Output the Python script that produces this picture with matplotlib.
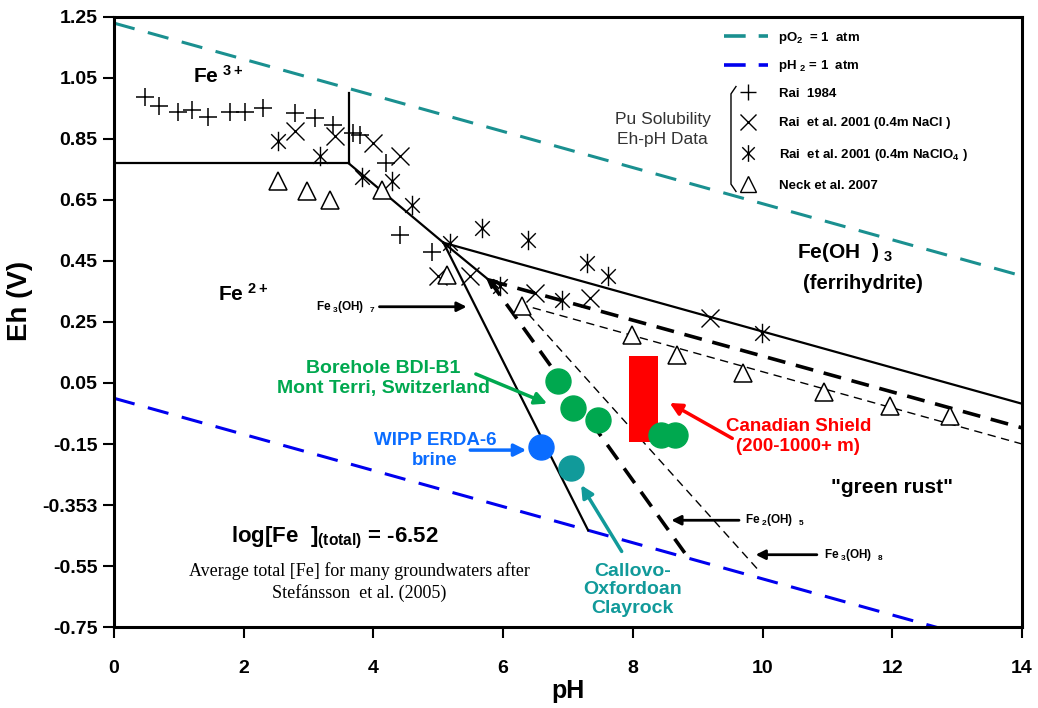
import matplotlib
matplotlib.use("Agg")
import matplotlib.pyplot as plt
from matplotlib.path import Path
from matplotlib.lines import Line2D

plt.rcParams['font.family'] = ['Liberation Sans', 'DejaVu Sans']
plt.rcParams['mathtext.fontset'] = 'custom'
plt.rcParams['mathtext.rm'] = 'Liberation Sans'
plt.rcParams['mathtext.bf'] = 'Liberation Sans:bold'
plt.rcParams['mathtext.default'] = 'regular'

# ---- stability boundaries (pH, Eh) ----
po2_ph, po2_eh = [0, 14], [1.23, 0.401]
ph2_ph, ph2_eh = [0, 14], [0.0, -0.829]
fe3_fe2_ph, fe3_fe2_eh = [0, 3.62], [0.77, 0.77]
fe3_vert_ph, fe3_vert_eh = [3.62, 3.62], [0.77, 1.0]
feoh3_fe2_ph, feoh3_fe2_eh = [3.62, 5.08], [0.77, 0.51]
feoh3_ext_ph, feoh3_ext_eh = [5.08, 5.79], [0.51, 0.386]
feoh3_gr7_ph, feoh3_gr7_eh = [5.08, 14], [0.51, -0.018]
gr7_fe2_ph, gr7_fe2_eh = [5.08, 7.31], [0.51, -0.433]
gr5_top_ph, gr5_top_eh = [5.79, 14], [0.386, -0.097]
gr5_fe2_ph, gr5_fe2_eh = [5.79, 8.80], [0.386, -0.507]
gr8_top_ph, gr8_top_eh = [6.25, 14], [0.309, -0.150]
gr8_fe2_ph, gr8_fe2_eh = [6.25, 9.93], [0.309, -0.562]

# ---- Pu solubility Eh-pH data ----
rai84_ph = [0.48, 0.70, 0.99, 1.20, 1.45, 1.79, 2.02, 2.30, 2.79, 3.10, 3.38, 3.69, 3.79, 4.20, 4.41, 4.90]
rai84_eh = [0.988, 0.959, 0.940, 0.946, 0.922, 0.940, 0.940, 0.952, 0.935, 0.919, 0.897, 0.870, 0.864, 0.771, 0.536, 0.481]
rai01cl_ph = [2.79, 3.41, 4.00, 4.41, 5.00, 5.49, 6.49, 7.34, 9.19]
rai01cl_eh = [0.875, 0.859, 0.837, 0.793, 0.400, 0.400, 0.345, 0.329, 0.263]
rai01clo4_ph = [2.53, 3.18, 3.82, 4.28, 4.59, 5.18, 5.67, 6.39, 5.95, 6.90, 7.29, 7.62, 9.99]
rai01clo4_eh = [0.842, 0.793, 0.727, 0.711, 0.635, 0.509, 0.558, 0.520, 0.367, 0.323, 0.443, 0.400, 0.214]
neck_ph = [2.53, 2.97, 3.33, 4.13, 5.13, 6.29, 7.98, 8.68, 9.70, 10.94, 11.96, 12.89]
neck_eh = [0.711, 0.678, 0.651, 0.684, 0.405, 0.301, 0.208, 0.143, 0.083, 0.022, -0.027, -0.059]

# ---- groundwaters ----
bdi_ph = [6.85, 7.08, 7.47, 8.44, 8.65]
bdi_eh = [0.055, -0.032, -0.070, -0.120, -0.120]
wipp_ph, wipp_eh = [6.59], [-0.160]
cox_ph, cox_eh = [7.04], [-0.229]
shield_ph, shield_width = 8.16, 0.44
shield_eh_low, shield_eh_high = -0.145, 0.140

yticks = [1.25, 1.05, 0.85, 0.65, 0.45, 0.25, 0.05, -0.15, -0.35, -0.55, -0.75]
ytick_labels = ['1.25', '1.05', '0.85', '0.65', '0.45', '0.25', '0.05', '-0.15', '-0.353', '-0.55', '-0.75']
xticks = [0, 2, 4, 6, 8, 10, 12, 14]

teal = '#1a9090'
green = '#00a84f'
wblue = '#0a6cff'
cteal = '#119a9a'

asterisk = Path([(0, -1), (0, 1), (-0.75, -0.75), (0.75, 0.75), (-0.75, 0.75), (0.75, -0.75)],
                [Path.MOVETO, Path.LINETO] * 3)

fig = plt.figure(figsize=(10.38, 7.08), dpi=100)
ax = fig.add_axes([0.1098, 0.1144, 0.8748, 0.8616])
ax.set_xlim(0, 14)
ax.set_ylim(-0.75, 1.25)

ax.plot(po2_ph, po2_eh, color=teal, lw=2.2, dashes=(7, 4.5))
ax.plot(ph2_ph, ph2_eh, color='#0000ee', lw=2.2, dashes=(7, 4.5))

for px, ey in [(fe3_fe2_ph, fe3_fe2_eh), (fe3_vert_ph, fe3_vert_eh), (feoh3_fe2_ph, feoh3_fe2_eh),
               (feoh3_ext_ph, feoh3_ext_eh), (feoh3_gr7_ph, feoh3_gr7_eh), (gr7_fe2_ph, gr7_fe2_eh)]:
    ax.plot(px, ey, color='black', lw=1.6)
for px, ey in [(gr5_top_ph, gr5_top_eh), (gr5_fe2_ph, gr5_fe2_eh)]:
    ax.plot(px, ey, color='black', lw=2.6, dashes=(5, 3))
for px, ey in [(gr8_top_ph, gr8_top_eh), (gr8_fe2_ph, gr8_fe2_eh)]:
    ax.plot(px, ey, color='black', lw=1.0, dashes=(6, 4))
ax.annotate('', xy=(5.70, 0.402), xytext=(5.95, 0.357),
            arrowprops=dict(arrowstyle='-|>', color='black', lw=1.5, mutation_scale=16))

ax.plot(rai84_ph, rai84_eh, ls='none', marker='+', ms=13, mew=1.1, color='black')
ax.plot(rai01cl_ph, rai01cl_eh, ls='none', marker='x', ms=13, mew=1.0, color='black')
ax.plot(rai01clo4_ph, rai01clo4_eh, ls='none', marker=asterisk, ms=14, mew=1.0, color='black')
ax.plot(neck_ph, neck_eh, ls='none', marker='^', ms=13, mew=1.1, mfc='white', mec='black')

ax.bar(shield_ph, shield_eh_high - shield_eh_low, bottom=shield_eh_low, width=shield_width,
       color='#ff0000', zorder=3)
ax.plot(bdi_ph, bdi_eh, ls='none', marker='o', ms=18, color=green, zorder=4)
ax.plot(wipp_ph, wipp_eh, ls='none', marker='o', ms=18, color=wblue, zorder=4)
ax.plot(cox_ph, cox_eh, ls='none', marker='o', ms=18, color=cteal, zorder=4)

# ---- labels ----
ax.text(1.22, 1.035, r'Fe$^{\ 3+}$', fontsize=15, fontweight='bold')
ax.text(1.6, 0.32, r'Fe$^{\ 2+}$', fontsize=15, fontweight='bold')
ax.text(10.53, 0.46, r'Fe(OH  )$_{\ 3}$', fontsize=15, fontweight='bold', ha='left')
ax.text(11.55, 0.375, '(ferrihydrite)', fontsize=14.5, fontweight='bold', ha='center', va='center')
ax.text(12.0, -0.294, '"green rust"', fontsize=15, fontweight='bold', ha='center', va='center')

ax.text(4.03, 0.30, r'Fe$_{\ 3}$(OH)  $_7$', fontsize=8.5, fontweight='bold', ha='right', va='center')
ax.annotate('', xy=(5.48, 0.30), xytext=(4.05, 0.30),
            arrowprops=dict(arrowstyle='-|>', color='black', lw=2, mutation_scale=14))
ax.text(9.73, -0.40, r'Fe$_{\ 2}$(OH)  $_5$', fontsize=8.5, fontweight='bold', ha='left', va='center')
ax.annotate('', xy=(8.55, -0.40), xytext=(9.68, -0.40),
            arrowprops=dict(arrowstyle='-|>', color='black', lw=2, mutation_scale=14))
ax.text(10.95, -0.513, r'Fe$_{\ 3}$(OH)  $_8$', fontsize=8.5, fontweight='bold', ha='left', va='center')
ax.annotate('', xy=(9.85, -0.513), xytext=(10.88, -0.513),
            arrowprops=dict(arrowstyle='-|>', color='black', lw=2, mutation_scale=14))

ax.text(10.55, -0.125, 'Canadian Shield\n(200-1000+ m)', color='#ff0000', fontsize=13.5,
        fontweight='bold', ha='center', va='center', linespacing=1.25)
ax.annotate('', xy=(8.53, -0.011), xytext=(9.57, -0.136),
            arrowprops=dict(arrowstyle='-|>', color='#ff0000', lw=2.5, mutation_scale=18))
ax.text(5.80, 0.065, 'Borehole BDI-B1\nMont Terri, Switzerland', color=green, fontsize=14,
        fontweight='bold', ha='right', va='center', multialignment='center', linespacing=1.2)
ax.annotate('', xy=(6.72, -0.021), xytext=(5.54, 0.083),
            arrowprops=dict(arrowstyle='-|>', color=green, lw=2.5, mutation_scale=18))
ax.text(4.95, -0.172, 'WIPP ERDA-6\nbrine', color=wblue, fontsize=13.5, fontweight='bold',
        ha='center', va='center', linespacing=1.2)
ax.annotate('', xy=(6.40, -0.170), xytext=(5.45, -0.170),
            arrowprops=dict(arrowstyle='-|>', color=wblue, lw=2.5, mutation_scale=18))
ax.text(8.0, -0.628, 'Callovo-\nOxfordoan\nClayrock', color=cteal, fontsize=14, fontweight='bold',
        ha='center', va='center', linespacing=1.1)
ax.annotate('', xy=(7.18, -0.277), xytext=(7.85, -0.51),
            arrowprops=dict(arrowstyle='-|>', color=cteal, lw=2.5, mutation_scale=18))

ax.text(3.4, -0.457, r'log[Fe  ]$_{\bf (total)}$ = -6.52', fontsize=16, fontweight='bold',
        ha='center', va='center')
ax.text(3.78, -0.602, 'Average total [Fe] for many groundwaters after\nStefánsson  et al. (2005)',
        fontsize=13, family='Liberation Serif', ha='center', va='center', linespacing=1.3)

ax.text(8.46, 0.88, 'Pu Solubility\nEh-pH Data', fontsize=12.5, color='#333333',
        ha='center', va='center', linespacing=1.4)

# bracket for the data legend
ax.plot([0.6850, 0.6795, 0.6795, 0.6850], [0.886, 0.874, 0.726, 0.714],
        transform=ax.transAxes, color='black', lw=1.0)

leg1 = ax.legend(handles=[Line2D([], [], color=teal, lw=2.6, dashes=(6, 3.6)),
                          Line2D([], [], color='#0000ee', lw=2.6, dashes=(6, 3.6))],
                 labels=[r'pO$_2$  = 1  atm', r'pH $_2$ = 1  atm'],
                 loc='upper left', bbox_to_anchor=(0.672, 0.979), frameon=False,
                 prop={'weight': 'bold', 'size': 9.5}, handlelength=3.33, handletextpad=0.76,
                 labelspacing=0.95, borderpad=0, borderaxespad=0)
ax.add_artist(leg1)
ax.legend(handles=[Line2D([], [], ls='none', marker='+', ms=12, mew=1, color='black'),
                   Line2D([], [], ls='none', marker='x', ms=11, mew=1, color='black'),
                   Line2D([], [], ls='none', marker=asterisk, ms=12, mew=1, color='black'),
                   Line2D([], [], ls='none', marker='^', ms=11, mew=1, mfc='white', mec='black')],
          labels=['Rai  1984', 'Rai  et al. 2001 (0.4m NaCl )',
                  r'Rai  et al. 2001 (0.4m NaClO$_4$ )', 'Neck et al. 2007'],
          loc='upper left', bbox_to_anchor=(0.686, 0.884), frameon=False,
          prop={'weight': 'bold', 'size': 9.5}, handlelength=1.67, handletextpad=1.5,
          labelspacing=1.3, borderpad=0, borderaxespad=0)

ax.set_xticks(xticks)
ax.set_yticks(yticks)
ax.set_yticklabels(ytick_labels)
ax.tick_params(axis='both', direction='out', length=8, width=1.5, labelsize=14, pad=4)
ax.tick_params(axis='x', pad=16)
for lab in ax.get_xticklabels() + ax.get_yticklabels():
    lab.set_fontweight('bold')
for sp in ax.spines.values():
    sp.set_linewidth(2.2)
ax.set_xlabel('pH', fontsize=18, fontweight='bold')
ax.set_ylabel('Eh (V)', fontsize=20, fontweight='bold')
ax.xaxis.set_label_coords(0.5, -0.085)
ax.yaxis.set_label_coords(-0.089, 0.535)

fig.savefig('out.png', dpi=100)
